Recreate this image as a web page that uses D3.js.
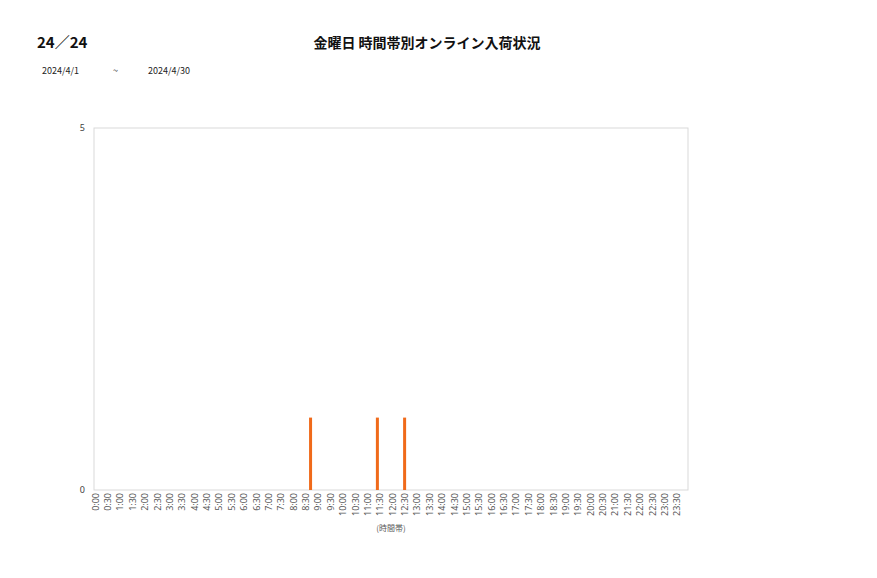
<!DOCTYPE html>
<html><head><meta charset="utf-8">
<script src="https://cdn.jsdelivr.net/npm/d3@7"></script>
<style>
body{margin:0;background:#fff;}
svg{display:block;font-family:"Noto Sans CJK JP","Noto Sans",sans-serif;}
</style></head>
<body><svg id="c" width="877" height="578"></svg>
<script>
const pageLabel = "24／24";
const title = "金曜日 時間帯別オンライン入荷状況";
const dateFrom = "2024/4/1";
const dateSep = "~";
const dateTo = "2024/4/30";
const xAxisTitle = "(時間帯)";
const times = ["0:00","0:30","1:00","1:30","2:00","2:30","3:00","3:30","4:00","4:30","5:00","5:30","6:00","6:30","7:00","7:30","8:00","8:30","9:00","9:30","10:00","10:30","11:00","11:30","12:00","12:30","13:00","13:30","14:00","14:30","15:00","15:30","16:00","16:30","17:00","17:30","18:00","18:30","19:00","19:30","20:00","20:30","21:00","21:30","22:00","22:30","23:00","23:30"];
const weeks = ["第1週","第2週","第3週","第4週","第5週"];
// non-zero values: [time, week index, value]
const arrivals = [["8:30",2,1],["11:00",4,1],["12:30",0,1]];
const yTicks = [0,5];

const svg = d3.select("#c");
const L=94, R=688, T=128, B=490;
const x = d3.scaleBand().domain(times).range([L,R]).padding(0);
const xs = d3.scaleBand().domain(weeks).range([0,x.bandwidth()]).padding(0);
const y = d3.scaleLinear().domain([0,5]).range([B,T]);

svg.append("rect").attr("x",L).attr("y",T).attr("width",R-L).attr("height",B-T)
  .attr("fill","#fff").attr("stroke","#d9d9d9").attr("stroke-width",1);

// bars
const data = [];
times.forEach(t=>weeks.forEach((w,wi)=>{
  const f = arrivals.find(a=>a[0]===t && a[1]===wi);
  data.push({t,w,v:f?f[2]:0});
}));
svg.append("g").selectAll("rect").data(data.filter(d=>d.v>0)).join("rect")
  .attr("x",d=>x(d.t)+xs(d.w)+xs.bandwidth()/2-1.5)
  .attr("width",3)
  .attr("y",d=>y(d.v))
  .attr("height",d=>y(0)-y(d.v))
  .attr("fill","#f06a1a");

// y axis
const ya = svg.append("g").attr("transform",`translate(${L},0)`)
  .call(d3.axisLeft(y).tickValues(yTicks).tickSize(0).tickPadding(9).tickFormat(d3.format("d")));
ya.select(".domain").remove();
ya.selectAll("text").attr("font-size",9).attr("fill","#404040").attr("font-family","Noto Sans, sans-serif");

// x axis
const xa = svg.append("g").attr("transform",`translate(${-x.bandwidth()/2+1.5},${B})`)
  .call(d3.axisBottom(x).tickSize(0).tickPadding(0));
xa.select(".domain").remove();
xa.selectAll("text")
  .attr("font-size",9).attr("fill","#595959").attr("font-family","Noto Sans, sans-serif")
  .attr("text-anchor","end").attr("dy","0.35em")
  .attr("transform","translate(0,3) rotate(-90)");

svg.append("text").attr("x",391).attr("y",531).attr("text-anchor","middle")
  .attr("font-size",8).attr("fill","#595959").text(xAxisTitle);

// titles
svg.append("text").attr("x",37).attr("y",48).attr("font-size",15).attr("font-weight","bold")
  .attr("fill","#111").text(pageLabel);
svg.append("text").attr("x",427).attr("y",48).attr("text-anchor","middle").attr("font-size",14)
  .attr("font-weight","bold").attr("fill","#111").text(title);
svg.append("text").attr("x",42).attr("y",74).attr("font-size",9).attr("fill","#222").text(dateFrom);
svg.append("text").attr("x",113).attr("y",74).attr("font-size",9).attr("fill","#222").text(dateSep);
svg.append("text").attr("x",148).attr("y",74).attr("font-size",9).attr("fill","#222").text(dateTo);
</script></body></html>
